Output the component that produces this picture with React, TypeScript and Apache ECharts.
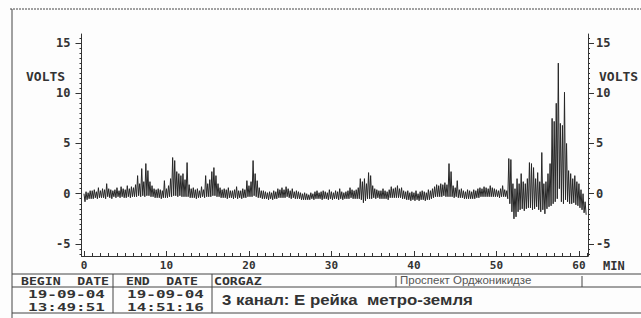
import React, { useEffect, useRef } from "react";
import * as echarts from "echarts";

// Recorder bins: one high/low pair every 0.25 min
const BIN = 0.25;

const high0to10 = [
  0.0, 0.2, 0.1, 0.3, 0.3, 0.4, 0.2, 0.6, 0.3, 0.5, 0.4, 1.0, 0.5, 0.4, 0.3, 0.4,
  0.6, 0.3, 0.7, 0.5, 0.4, 0.8, 0.5, 0.7, 0.6, 0.9, 1.8, 1.0, 2.5, 1.2, 3.0, 2.3,
  1.2, 0.8, 0.5, 0.4, 0.5, 0.4, 0.3, 1.3,
];
const low0to10 = [
  -0.8, -0.6, -0.5, -0.5, -0.5, -0.4, -0.5, -0.4, -0.4, -0.4, -0.5, -0.3, -0.4, -0.5, -0.3, -0.4,
  -0.3, -0.4, -0.3, -0.4, -0.4, -0.3, -0.4, -0.3, -0.3, -0.3, -0.2, -0.3, -0.2, -0.3, -0.2, -0.2,
  -0.3, -0.3, -0.4, -0.4, -0.4, -0.5, -0.4, -0.4,
];
const high10to20 = [
  0.5, 0.8, 1.5, 3.6, 3.3, 2.2, 2.0, 1.8, 2.0, 1.4, 3.1, 0.9, 0.5, 0.6, 0.4, 0.5,
  0.3, 0.7, 0.4, 1.8, 1.0, 1.4, 2.2, 2.6, 1.8, 1.0, 0.6, 0.4, 0.5, 0.4, 0.6, 0.3,
  0.3, 0.4, 0.7, 0.3, 0.3, 0.5, 0.4, 1.3,
];
const low10to20 = [
  -0.4, -0.3, -0.3, -0.2, -0.2, -0.3, -0.2, -0.3, -0.3, -0.3, -0.3, -0.4, -0.4, -0.4, -0.5, -0.4,
  -0.4, -0.3, -0.4, -0.3, -0.3, -0.3, -0.2, -0.2, -0.3, -0.3, -0.4, -0.4, -0.4, -0.5, -0.4, -0.4,
  -0.5, -0.4, -0.5, -0.4, -0.5, -0.4, -0.4, -0.3,
];
const high20to30 = [
  0.8, 1.2, 3.3, 2.0, 1.3, 0.6, 0.3, 0.3, 0.2, 0.1, 0.2, 0.1, 0.3, 0.2, 0.5, 0.4,
  0.6, 0.4, 0.7, 0.5, 0.3, 0.5, 0.2, 0.3, 0.2, 0.1, 0.0, 0.1, 0.0, -0.1, 0.1, 0.0,
  0.2, 0.3, 0.1, 0.2, 0.3, 0.2, 0.1, 0.4,
];
const low20to30 = [
  -0.3, -0.3, -0.2, -0.3, -0.4, -0.4, -0.5, -0.5, -0.5, -0.6, -0.5, -0.6, -0.5, -0.5, -0.4, -0.4,
  -0.4, -0.4, -0.3, -0.4, -0.5, -0.4, -0.5, -0.5, -0.5, -0.6, -0.6, -0.6, -0.6, -0.6, -0.5, -0.6,
  -0.5, -0.5, -0.5, -0.6, -0.5, -0.5, -0.6, -0.5,
];
const high30to40 = [
  0.2, 0.1, 0.3, 0.2, 0.5, 0.2, 0.1, 0.2, 0.3, 0.6, 0.4, 0.3, 0.4, 0.6, 1.5, 1.2,
  1.5, 1.0, 2.1, 1.8, 0.8, 0.5, 0.4, 0.3, 0.3, 0.5, 0.3, 0.2, 0.4, 0.7, 0.5, 0.6,
  0.8, 0.5, 0.6, 0.3, 0.2, 0.3, 0.1, 0.2,
];
const low30to40 = [
  -0.6, -0.5, -0.5, -0.6, -0.5, -0.6, -0.5, -0.5, -0.5, -0.4, -0.5, -0.5, -0.5, -0.5, -0.6, -0.9,
  -0.7, -0.5, -0.5, -0.5, -0.4, -0.5, -0.4, -0.5, -0.5, -0.5, -0.5, -0.6, -0.4, -0.4, -0.4, -0.4,
  -0.4, -0.4, -0.5, -0.5, -0.6, -0.6, -0.7, -0.6,
];
const high40to50 = [
  0.1, 0.3, 0.0, 0.2, 0.3, 0.2, 0.1, 0.4, 0.3, 0.5, 0.7, 0.9, 0.8, 1.0, 0.9, 1.1,
  0.9, 3.0, 2.2, 0.8, 0.6, 1.3, 0.4, 0.5, 0.3, 0.2, 0.4, 0.3, 0.2, 0.4, 0.3, 0.5,
  0.6, 0.5, 0.7, 0.6, 0.5, 0.8, 0.6, 0.5,
];
const low40to50 = [
  -0.7, -0.6, -0.7, -0.6, -0.6, -0.7, -0.6, -0.6, -0.5, -0.4, -0.3, -0.3, -0.3, -0.3, -0.2, -0.3,
  -0.3, -0.3, -0.3, -0.4, -0.3, -0.4, -0.4, -0.4, -0.5, -0.5, -0.5, -0.5, -0.5, -0.5, -0.4, -0.4,
  -0.3, -0.3, -0.3, -0.3, -0.3, -0.3, -0.3, -0.3,
];
const high50to61 = [
  0.4, 0.3, 0.5, 0.8, 0.4, 0.3, 3.5, 3.4, 1.0, 0.5, 1.5, 1.0, 2.0, 1.2, 1.0, 1.5,
  3.1, 3.0, 2.6, 1.5, 2.1, 1.2, 4.1, 1.0, 1.2, 2.0, 3.0, 7.5, 7.2, 9.0, 13.0, 7.0,
  6.8, 10.1, 5.0, 2.3, 2.0, 1.5, 1.8, 1.2, 1.0, 0.4, 0.0, -0.8,
];
const low50to61 = [
  -0.3, -0.4, -0.3, -0.3, -0.3, -0.5, -1.0, -1.8, -2.5, -2.3, -1.8, -1.6, -1.5, -1.7, -1.5, -1.4,
  -1.4, -1.6, -1.5, -1.3, -1.6, -1.8, -1.6, -2.0, -1.5, -1.3, -1.2, -1.0, -0.8, -0.5, 0.5, -0.8,
  -1.0, -0.6, -0.8, -1.0, -1.0, -0.9, -1.1, -1.2, -1.4, -1.6, -1.9, -2.1,
];

const xTickLabels = [0, 10, 20, 30, 40, 50, 60];
const xMinorTicks = Array.from({ length: 62 }, (_, i) => i);
const yTickLabels = [-5, 0, 5, 10, 15];
const yMinorTicks = Array.from({ length: 44 }, (_, i) => -6 + i * 0.5);

const X_MIN = -0.3;
const X_MAX = 61.1;
const Y_MIN = -6.2;
const Y_MAX = 15.9;

const ink = "#333";
const mono = "'DejaVu Sans Mono', monospace";

function buildTrace(): [number, number][] {
  const highs = [...high0to10, ...high10to20, ...high20to30, ...high30to40, ...high40to50, ...high50to61];
  const lows = [...low0to10, ...low10to20, ...low20to30, ...low30to40, ...low40to50, ...low50to61];
  const pts: [number, number][] = [];
  highs.forEach((h, i) => {
    pts.push([i * BIN, h]);
    pts.push([i * BIN + BIN / 2, lows[i]]);
  });
  return pts;
}

function xAxisDef(major: boolean) {
  return {
    type: "value",
    min: X_MIN,
    max: X_MAX,
    position: "bottom",
    axisLine: { show: major, onZero: false, lineStyle: { color: ink, width: 1 } },
    axisTick: {
      show: true,
      inside: true,
      length: major ? 5 : 3,
      customValues: major ? xTickLabels : xMinorTicks,
      lineStyle: { color: ink, width: 1 },
    },
    axisLabel: {
      show: major,
      customValues: xTickLabels,
      margin: 4,
      color: ink,
      fontFamily: mono,
      fontWeight: "bold",
      fontSize: 11,
      formatter: (v: number) => String(v),
    },
    splitLine: { show: false },
  };
}

function yAxisDef(side: "left" | "right", major: boolean) {
  return {
    type: "value",
    min: Y_MIN,
    max: Y_MAX,
    position: side,
    axisLine: { show: major, onZero: false, lineStyle: { color: ink, width: 1 } },
    axisTick: {
      show: true,
      inside: false,
      length: major ? 6 : 2,
      customValues: major ? yTickLabels : yMinorTicks,
      lineStyle: { color: ink, width: 1 },
    },
    axisLabel: {
      show: major,
      customValues: yTickLabels,
      margin: side === "left" ? 11 : 8,
      color: ink,
      fontFamily: mono,
      fontWeight: "bold",
      fontSize: 12,
      formatter: (v: number) => String(v),
    },
    splitLine: { show: false },
  };
}

function line(x1: number, y1: number, x2: number, y2: number, dash?: number[]) {
  return {
    type: "line",
    shape: { x1, y1, x2, y2 },
    style: { stroke: "#444", lineWidth: 1, lineDash: dash },
    silent: true,
  };
}

function text(
  t: string,
  x: number,
  y: number,
  font: string,
  align: string = "left",
  scaleX: number = 1,
  fill: string = ink
) {
  return {
    type: "text",
    x,
    y,
    scaleX,
    silent: true,
    style: { text: t, font, fill, textAlign: align, textVerticalAlign: "middle" },
  };
}

export default function App() {
  const ref = useRef<HTMLDivElement>(null);

  useEffect(() => {
    if (!ref.current) return;
    const chart = echarts.init(ref.current, undefined, { renderer: "svg" });
    const monoBold12 = `bold 12px ${mono}`;
    const monoBold11 = `bold 11px ${mono}`;
    chart.setOption({
      animation: false,
      backgroundColor: "#fdfdfd",
      grid: { left: 81.5, top: 34, width: 506.5, height: 222, containLabel: false },
      xAxis: [xAxisDef(true), xAxisDef(false)],
      yAxis: [yAxisDef("left", true), yAxisDef("left", false), yAxisDef("right", true), yAxisDef("right", false)],
      series: [
        {
          type: "line",
          xAxisIndex: 0,
          yAxisIndex: 0,
          data: buildTrace(),
          showSymbol: false,
          symbol: "none",
          lineStyle: { color: "#262626", width: 1 },
          clip: true,
        },
      ],
      graphic: [
        line(10, 9, 641, 9, [2, 1]),
        line(12, 9, 12, 318),
        line(12, 274, 641, 274),
        line(12, 287, 641, 287),
        line(12, 313, 641, 313),
        line(113, 274, 113, 313),
        line(212, 274, 212, 313),
        line(396, 276, 396, 287),
        line(582, 276, 582, 287),
        text("VOLTS", 26, 76, `bold 13px ${mono}`),
        text("VOLTS", 599, 76, `bold 13px ${mono}`),
        text("MIN", 603, 266, monoBold12),
        text("BEGIN", 21, 281, monoBold11, "left", 1.2),
        text("DATE", 109, 281, monoBold11, "right", 1.2),
        text("END", 126, 281, monoBold11, "left", 1.2),
        text("DATE", 198, 281, monoBold11, "right", 1.2),
        text("CORGAZ", 214, 281, monoBold11, "left", 1.2),
        text("Проспект Орджоникидзе", 400, 280, "10px 'Liberation Sans', sans-serif", "left", 1.15, "#555"),
        text("19-09-04", 66.5, 293.5, monoBold11, "center", 1.45),
        text("13:49:51", 66.5, 307, monoBold11, "center", 1.45),
        text("19-09-04", 165.5, 293.5, monoBold11, "center", 1.45),
        text("14:51:16", 165.5, 307, monoBold11, "center", 1.45),
        text("3 канал: Е рейка  метро-земля", 222, 300, "bold 15px 'Liberation Sans', Arial, sans-serif", "left", 1.12),
      ],
    });
    return () => chart.dispose();
  }, []);

  return (
    <div
      ref={ref}
      style={{ position: "absolute", left: 0, top: 0, width: 641, height: 318, background: "#fdfdfd" }}
    />
  );
}
